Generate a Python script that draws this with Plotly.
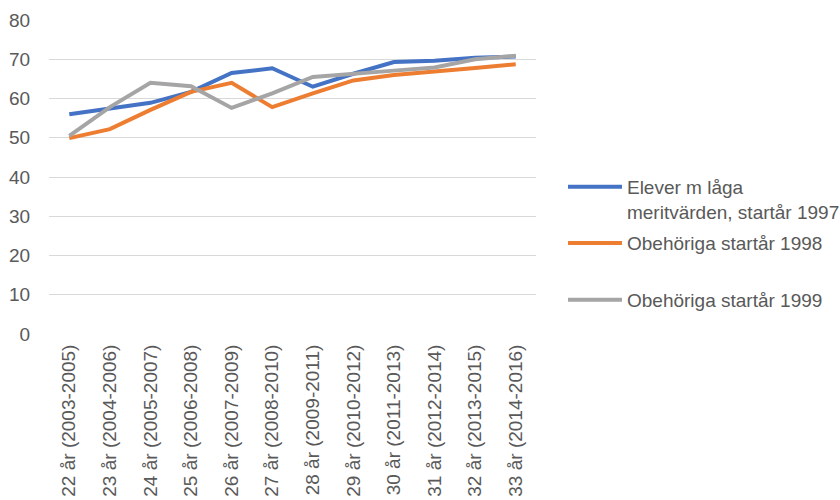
import plotly.graph_objects as go

categories = ["22 år (2003-2005)", "23 år (2004-2006)", "24 år (2005-2007)", "25 år (2006-2008)",
              "26 år (2007-2009)", "27 år (2008-2010)", "28 år (2009-2011)", "29 år (2010-2012)",
              "30 år (2011-2013)", "31 år (2012-2014)", "32 år (2013-2015)", "33 år (2014-2016)"]
series_names = ["Elever m låga<br>meritvärden, startår 1997", "Obehöriga startår 1998", "Obehöriga startår 1999"]
blue_vals = [56.0, 57.4, 58.9, 61.7, 66.5, 67.7, 63.0, 66.3, 69.3, 69.6, 70.4, 70.7]
orange_vals = [49.9, 52.2, 57.1, 61.7, 64.0, 57.8, 61.3, 64.6, 66.0, 66.8, 67.8, 68.7]
gray_vals = [50.5, 57.8, 64.0, 63.1, 57.6, 61.3, 65.5, 66.4, 67.1, 67.9, 70.0, 70.9]
colors = ["#4472C4", "#ED7D31", "#A5A5A5"]
y_ticks = [0, 10, 20, 30, 40, 50, 60, 70, 80]
legend_ids = ["legend", "legend2", "legend3"]
legend_tops = [0.529, 0.350, 0.169]

font_family = "Liberation Sans, Arial, sans-serif"
text_color = "#595959"

fig = go.Figure()
for i, (name, vals) in enumerate(zip(series_names, [blue_vals, orange_vals, gray_vals])):
    fig.add_trace(go.Scatter(
        x=categories, y=vals, mode="lines", name=name, legend=legend_ids[i],
        line=dict(color=colors[i], width=4),
    ))

legend_common = dict(x=1.0554, xanchor="left", yanchor="top", valign="top",
                     itemwidth=54, bgcolor="rgba(0,0,0,0)", borderwidth=0,
                     font=dict(family=font_family, size=19, color=text_color))

fig.update_layout(
    width=840, height=500,
    margin=dict(l=49, r=304, t=20, b=166, autoexpand=False),
    paper_bgcolor="white", plot_bgcolor="white",
    font=dict(family=font_family, size=19, color=text_color),
    showlegend=True,
    legend=dict(y=legend_tops[0], **legend_common),
    legend2=dict(y=legend_tops[1], **legend_common),
    legend3=dict(y=legend_tops[2], **legend_common),
    xaxis=dict(type="category", range=[-0.5, 11.5], tickangle=-90,
               showgrid=False, showline=False, zeroline=False,
               ticks="outside", ticklen=2, tickcolor="rgba(0,0,0,0)",
               automargin=False, tickfont=dict(size=19, color=text_color)),
    yaxis=dict(range=[0, 80], tickvals=y_ticks, showgrid=True, gridcolor="#D9D9D9",
               gridwidth=1, zeroline=False, showline=False,
               ticks="outside", ticklen=14, tickcolor="rgba(0,0,0,0)",
               automargin=False, tickfont=dict(size=19, color=text_color)),
)

fig.write_html("out.html", config={"displayModeBar": False},
               post_script="document.body.style.margin='0';document.body.style.overflow='hidden';")
